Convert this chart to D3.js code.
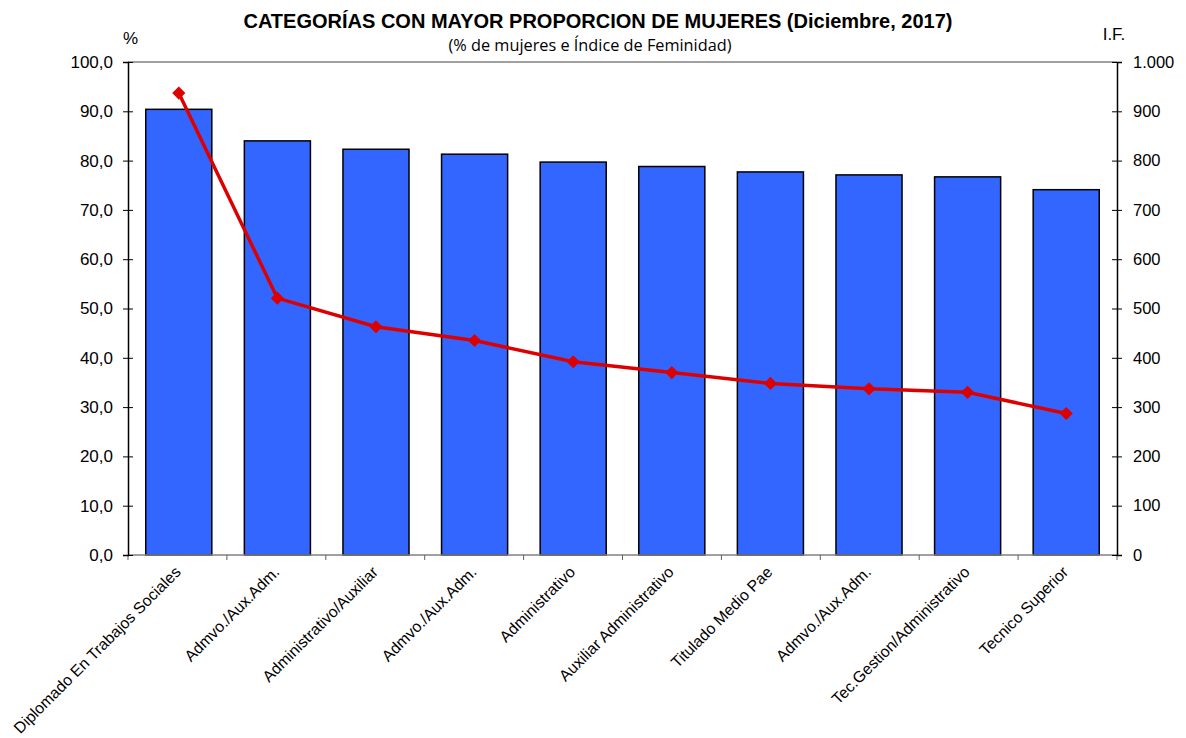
<!DOCTYPE html>
<html><head><meta charset="utf-8">
<script src="https://cdn.jsdelivr.net/npm/d3@7"></script>
<style>body{margin:0;background:#fff}</style>
</head><body>
<script>
const categories = ["Diplomado En Trabajos Sociales","Admvo./Aux.Adm.","Administrativo/Auxiliar","Admvo./Aux.Adm.","Administrativo","Auxiliar Administrativo","Titulado Medio Pae","Admvo./Aux.Adm.","Tec.Gestion/Administrativo","Tecnico Superior"];
const pctMujeres = [90.4, 84.0, 82.3, 81.3, 79.7, 78.8, 77.7, 77.1, 76.7, 74.1];
const indiceFeminidad = [937, 521, 463, 435, 392, 370, 348, 337, 330, 287];
const leftTicks = [0,10,20,30,40,50,60,70,80,90,100];
const rightTicks = [0,100,200,300,400,500,600,700,800,900,1000];

const W = 1186, H = 738;
const m = {left:128, right:1117, top:62, bottom:555};
const svg = d3.select("body").append("svg").attr("width",W).attr("height",H);
const FONT = "Liberation Sans, Arial, sans-serif";

const x = d3.scaleBand().domain(d3.range(categories.length)).range([m.left,m.right]).paddingInner(0.33).paddingOuter(0.18);
const yL = d3.scaleLinear().domain([0,100]).range([m.bottom,m.top]);
const yR = d3.scaleLinear().domain([0,1000]).range([m.bottom,m.top]);
const fmtL = d => d.toFixed(1).replace(".",",");
const fmtR = d => d >= 1000 ? "1.000" : String(d);

// top border
svg.append("line").attr("x1",m.left).attr("x2",m.right).attr("y1",m.top).attr("y2",m.top).attr("stroke","#808080").attr("stroke-width",1.5);

// bars
svg.append("g").selectAll("rect").data(pctMujeres).join("rect")
  .attr("x",(d,i)=>x(i)).attr("width",x.bandwidth())
  .attr("y",d=>yL(d)).attr("height",d=>yL(0)-yL(d))
  .attr("fill","#3366FF").attr("stroke","#000").attr("stroke-width",1.5);

// bottom axis line
svg.append("line").attr("x1",m.left).attr("x2",m.right).attr("y1",m.bottom).attr("y2",m.bottom).attr("stroke","#808080").attr("stroke-width",1.5);
// x ticks at boundaries
const bounds = d3.range(categories.length+1).map(i => m.left + (m.right-m.left)*i/categories.length);
svg.append("g").selectAll("line").data(bounds).join("line")
  .attr("x1",d=>d).attr("x2",d=>d).attr("y1",m.bottom).attr("y2",m.bottom+5).attr("stroke","#606060").attr("stroke-width",1);

// left axis
const gL = svg.append("g").attr("transform",`translate(${m.left},0)`)
  .call(d3.axisLeft(yL).tickValues(leftTicks).tickFormat(fmtL).tickSize(5).tickPadding(10));
gL.select(".domain").attr("stroke","#000").attr("stroke-width",1.5);
gL.selectAll(".tick line").attr("x2",5).attr("x1",-5).attr("stroke","#000");
gL.selectAll("text").attr("font-family",FONT).attr("font-size",17).attr("fill","#000");

// right axis
const gR = svg.append("g").attr("transform",`translate(${m.right},0)`)
  .call(d3.axisRight(yR).tickValues(rightTicks).tickFormat(fmtR).tickSize(5).tickPadding(11));
gR.select(".domain").attr("stroke","#000").attr("stroke-width",1.5);
gR.selectAll(".tick line").attr("x1",-5).attr("x2",5).attr("stroke","#000");
gR.selectAll("text").attr("font-family",FONT).attr("font-size",16.5).attr("fill","#000");

// line
const cx = i => x(i) + x.bandwidth()/2;
svg.append("path").datum(indiceFeminidad)
  .attr("d", d3.line().x((d,i)=>cx(i)).y(d=>yR(d)))
  .attr("fill","none").attr("stroke","#DD0000").attr("stroke-width",3.5);
svg.append("g").selectAll("path").data(indiceFeminidad).join("path")
  .attr("d", d3.symbol().type(d3.symbolDiamond2).size(110))
  .attr("transform",(d,i)=>`translate(${cx(i)},${yR(d)})`)
  .attr("fill","#DD0000");

// category labels
svg.append("g").selectAll("text").data(categories).join("text")
  .attr("transform",(d,i)=>`translate(${cx(i)+3},${m.bottom+18}) rotate(-45)`)
  .attr("text-anchor","end")
  .attr("font-family",FONT).attr("font-size",15.8)
  .text(d=>d);

// titles
svg.append("text").attr("x",598).attr("y",28).attr("text-anchor","middle")
  .attr("font-family",FONT).attr("font-weight","bold").attr("font-size",20)
  .text("CATEGORÍAS CON MAYOR PROPORCION DE MUJERES (Diciembre, 2017)");
svg.append("text").attr("x",590).attr("y",51).attr("text-anchor","middle")
  .attr("font-family","Open Sans, Noto Sans, sans-serif").attr("font-size",16.3)
  .text("(% de mujeres e Índice de Feminidad)");
svg.append("text").attr("x",130.5).attr("y",44).attr("text-anchor","middle")
  .attr("font-family",FONT).attr("font-size",17).text("%");
svg.append("text").attr("x",1114).attr("y",40).attr("text-anchor","middle")
  .attr("font-family",FONT).attr("font-size",17).text("I.F.");
</script>
</body></html>
